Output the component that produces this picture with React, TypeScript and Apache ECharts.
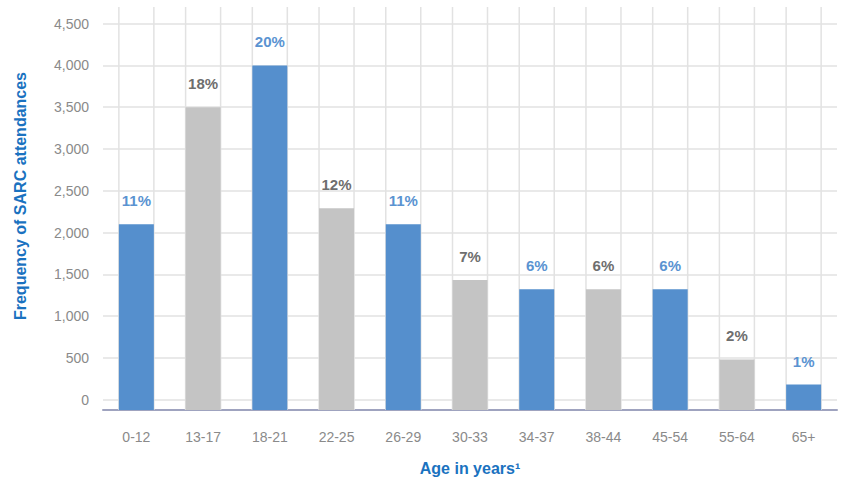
import React, { useEffect, useRef } from "react";
import * as echarts from "echarts";

const categories = ["0-12", "13-17", "18-21", "22-25", "26-29", "30-33", "34-37", "38-44", "45-54", "55-64", "65+"];
const attendances = [2100, 3500, 4000, 2290, 2100, 1430, 1320, 1320, 1320, 480, 180];
const percentLabels = ["11%", "18%", "20%", "12%", "11%", "7%", "6%", "6%", "6%", "2%", "1%"];
const yTickStep = 500;

const FONT = "'Liberation Sans', Arial, Helvetica, sans-serif";
const BLUE = "#558fcd";
const GREY = "#c4c4c4";
const BLUE_TEXT = "#5a93d1";
const GREY_TEXT = "#6e6e6e";
const TITLE_BLUE = "#1a72c0";
const BAR_W = 35;

export default function App() {
  const ref = useRef<HTMLDivElement>(null);
  useEffect(() => {
    if (!ref.current) return;
    const chart = echarts.init(ref.current, null, { renderer: "svg" });
    const option = {
      animation: false,
      grid: { left: 103, right: 4, top: 7, bottom: 69, containLabel: false, outerBoundsMode: "none" },
      graphic: [
        {
          type: "text",
          x: 20,
          y: 196,
          rotation: Math.PI / 2,
          style: {
            text: "Frequency of SARC attendances",
            fill: TITLE_BLUE,
            font: `bold 16px ${FONT}`,
            align: "center",
            verticalAlign: "middle",
          },
        },
      ],
      xAxis: {
        type: "category",
        data: categories,
        name: "Age in years\u00b9",
        nameLocation: "middle",
        nameGap: 50,
        nameTextStyle: { color: TITLE_BLUE, fontSize: 16, fontWeight: "bold", fontFamily: FONT },
        axisLine: { show: true, onZero: false, lineStyle: { color: "#9fa3bf", width: 2 } },
        axisTick: { show: false },
        axisLabel: { color: "#8a8a8a", fontSize: 14, fontFamily: FONT, margin: 20 },
        splitLine: { show: false },
      },
      yAxis: {
        type: "value",
        min: -125,
        max: 4700,
        interval: 125,
        startValue: -125,
        axisLine: { show: false },
        axisTick: { show: false },
        axisLabel: {
          color: "#8a8a8a",
          fontSize: 14,
          fontFamily: FONT,
          margin: 14,
          formatter: (v: number) =>
            v >= 0 && v % yTickStep === 0 && v <= 4500 ? v.toLocaleString("en-US") : "",
        },
        splitLine: {
          show: true,
          lineStyle: { color: ["transparent", "#e2e2e2", "transparent", "transparent"], width: 1.5 },
        },
      },
      series: [
        {
          type: "custom",
          silent: true,
          z: 1,
          data: categories.map((_, i) => [i]),
          renderItem: (params: any, api: any) => {
            const cs = params.coordSys;
            const x = api.coord([api.value(0), 0])[0];
            const mk = (xx: number) => ({
              type: "line",
              shape: { x1: xx, y1: cs.y, x2: xx, y2: cs.y + cs.height },
              style: { stroke: "#e2e2e2", lineWidth: 1.5 },
            });
            return { type: "group", children: [mk(x - BAR_W / 2), mk(x + BAR_W / 2)] };
          },
        },
        {
          type: "bar",
          z: 2,
          barWidth: BAR_W,
          data: attendances.map((v, i) => ({
            value: v,
            itemStyle: { color: i % 2 === 0 ? BLUE : GREY },
            label: {
              show: true,
              position: "top",
              distance: 16,
              formatter: percentLabels[i],
              color: i % 2 === 0 ? BLUE_TEXT : GREY_TEXT,
              fontSize: 15,
              fontWeight: "bold",
              fontFamily: FONT,
            },
          })),
        },
      ],
    };
    chart.setOption(option as any);
    return () => chart.dispose();
  }, []);
  return <div ref={ref} style={{ width: 841, height: 479, position: "absolute", left: 0, top: 0 }} />;
}
